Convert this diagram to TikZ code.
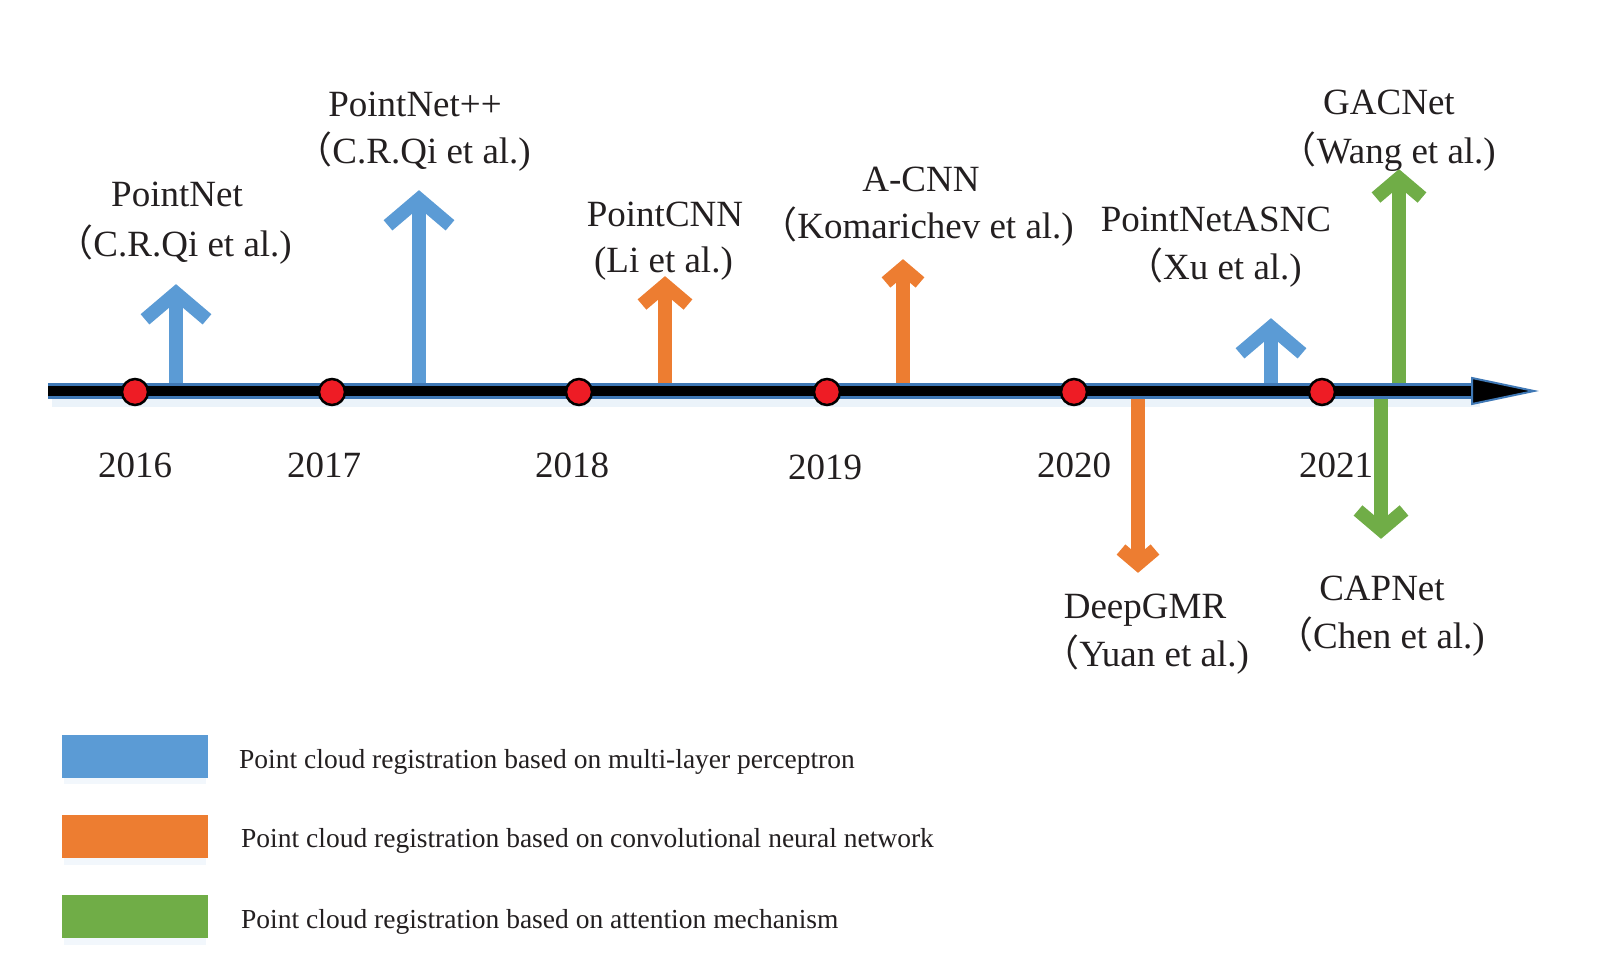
\documentclass[tikz,border=0pt]{standalone}
\usepackage{fontspec}
\setmainfont{Liberation Serif}
\newfontfamily\cjk{Noto Sans CJK SC}
\usetikzlibrary{calc}
\definecolor{mblue}{HTML}{5B9BD5}
\definecolor{morange}{HTML}{ED7D31}
\definecolor{mgreen}{HTML}{70AD47}
\definecolor{mred}{HTML}{EE1C25}
\definecolor{axblue}{HTML}{3F78B5}
\definecolor{txt}{HTML}{231F20}
\newcommand\fwp{{\cjk （}}
% name, colour, x, y of base, y of outer tip, half width of chevron
\newcommand\tlarrow[6]{%
  \pgfmathsetmacro\tlsg{(#5>#4)?1:-1}%
  \pgfmathsetmacro\tlapex{#5-\tlsg*9}%
  \pgfmathsetmacro\tlaa{#6-5}%
  \pgfmathsetmacro\tlbb{-\tlsg*0.85*\tlaa}%
  \coordinate (#1-b) at (#3,#4);
  \coordinate (#1-t) at (#3,\tlapex);
  \coordinate (#1-l) at ($(#1-t)+(-\tlaa,\tlbb)$);
  \coordinate (#1-r) at ($(#1-t)+(\tlaa,\tlbb)$);
  \draw[arr,#2] (#1-b) -- (#1-t);
  \draw[arr,#2] (#1-l) -- (#1-t) -- (#1-r);
}
\begin{document}
\begin{tikzpicture}[x=1pt,y=-1pt,
  arr/.style={line width=13.5pt, line cap=butt, line join=miter},
  lab/.style={inner sep=0pt, text=txt, font=\fontsize{37}{44}\selectfont},
  yr/.style={inner sep=0pt, text=txt, font=\fontsize{37}{44}\selectfont, anchor=base},
  dot/.style={circle, fill=mred, draw=black, line width=2.5pt, minimum size=26pt, inner sep=0pt},
  legbox/.style={rectangle, minimum width=146pt, minimum height=43pt, inner sep=0pt},
  legtxt/.style={inner sep=0pt, anchor=base west, text=txt, font=\fontsize{27.5}{32}\selectfont}]
\useasboundingbox (0,0) rectangle (1617,957);

% soft glow of the axis
\draw[line width=22pt, mblue!12] (52,396) -- (1480,396);

% arrows of the entries
\tlarrow{a1}{mblue}{176}{384}{284}{36}
\tlarrow{a2}{mblue}{419}{384}{190}{36}
\tlarrow{a3}{morange}{665}{384}{276}{28}
\tlarrow{a4}{morange}{903}{384}{259}{22}
\tlarrow{a5}{morange}{1138}{398}{573}{22}
\tlarrow{a6}{mblue}{1271}{384}{318}{36}
\tlarrow{a7}{mgreen}{1399}{389}{169}{28}
\tlarrow{a8}{mgreen}{1381}{394}{539}{28}

% time axis
\coordinate (axL) at (48,391);
\coordinate (axB) at (1476,391);
\coordinate (axR) at (1534,391);
\draw[line width=16pt, axblue] (axL) -- (axB);
\draw[line width=10pt, black] (axL) -- (axB);
\fill[black, draw=axblue, line width=2pt, line join=miter]
  ($(axB)+(-4,-13)$) -- (axR) -- ($(axB)+(-4,13)$) -- cycle;

% year dots and labels
\foreach \yy/\xd/\xl/\yl in {2016/135/135/477, 2017/332/324/477, 2018/579/572/477,
    2019/827/825/479, 2020/1074/1074/477, 2021/1322/1336/477}{
  \node[dot] (d\yy) at (\xd,392) {};
  \node[yr] (y\yy) at (\xl,\yl) {\yy};
}

% entry labels
\node[lab, anchor=base] (n1a) at (177,207) {PointNet};
\node[lab, anchor=base east] (n1b) at (292,257) {\fwp C.R.Qi et al.)};
\node[lab, anchor=base] (n2a) at (415,117) {PointNet++};
\node[lab, anchor=base east] (n2b) at (531,164) {\fwp C.R.Qi et al.)};
\node[lab, anchor=base] (n3a) at (665,227) {PointCNN};
\node[lab, anchor=base east] (n3b) at (733,273) {(Li et al.)};
\node[lab, anchor=base] (n4a) at (921,192) {A-CNN};
\node[lab, anchor=base east] (n4b) at (1074,239) {\fwp Komarichev et al.)};
\node[lab, anchor=base] (n6a) at (1216,232) {PointNetASNC};
\node[lab, anchor=base east] (n6b) at (1302,280) {\fwp Xu et al.)};
\node[lab, anchor=base] (n7a) at (1389,115) {GACNet};
\node[lab, anchor=base east] (n7b) at (1496,164) {\fwp Wang et al.)};
\node[lab, anchor=base] (n5a) at (1145,618) {DeepGMR};
\node[lab, anchor=base east] (n5b) at (1249,666) {\fwp Yuan et al.)};
\node[lab, anchor=base] (n8a) at (1382,600) {CAPNet};
\node[lab, anchor=base east] (n8b) at (1485,648) {\fwp Chen et al.)};

% legend
\foreach \i/\cc/\yb/\yt/\xt/\tt in {
    1/mblue/756/768/239/{Point cloud registration based on multi-layer perceptron},
    2/morange/836.5/847/241/{Point cloud registration based on convolutional neural network},
    3/mgreen/916.5/928/241/{Point cloud registration based on attention mechanism}}{
  \fill[mblue!8] (64,\yb) rectangle (206,\yb+28);
  \node[legbox, fill=\cc] (lg\i) at (135,\yb) {};
  \node[legtxt] (lt\i) at (\xt,\yt) {\tt};
}
\end{tikzpicture}
\end{document}
